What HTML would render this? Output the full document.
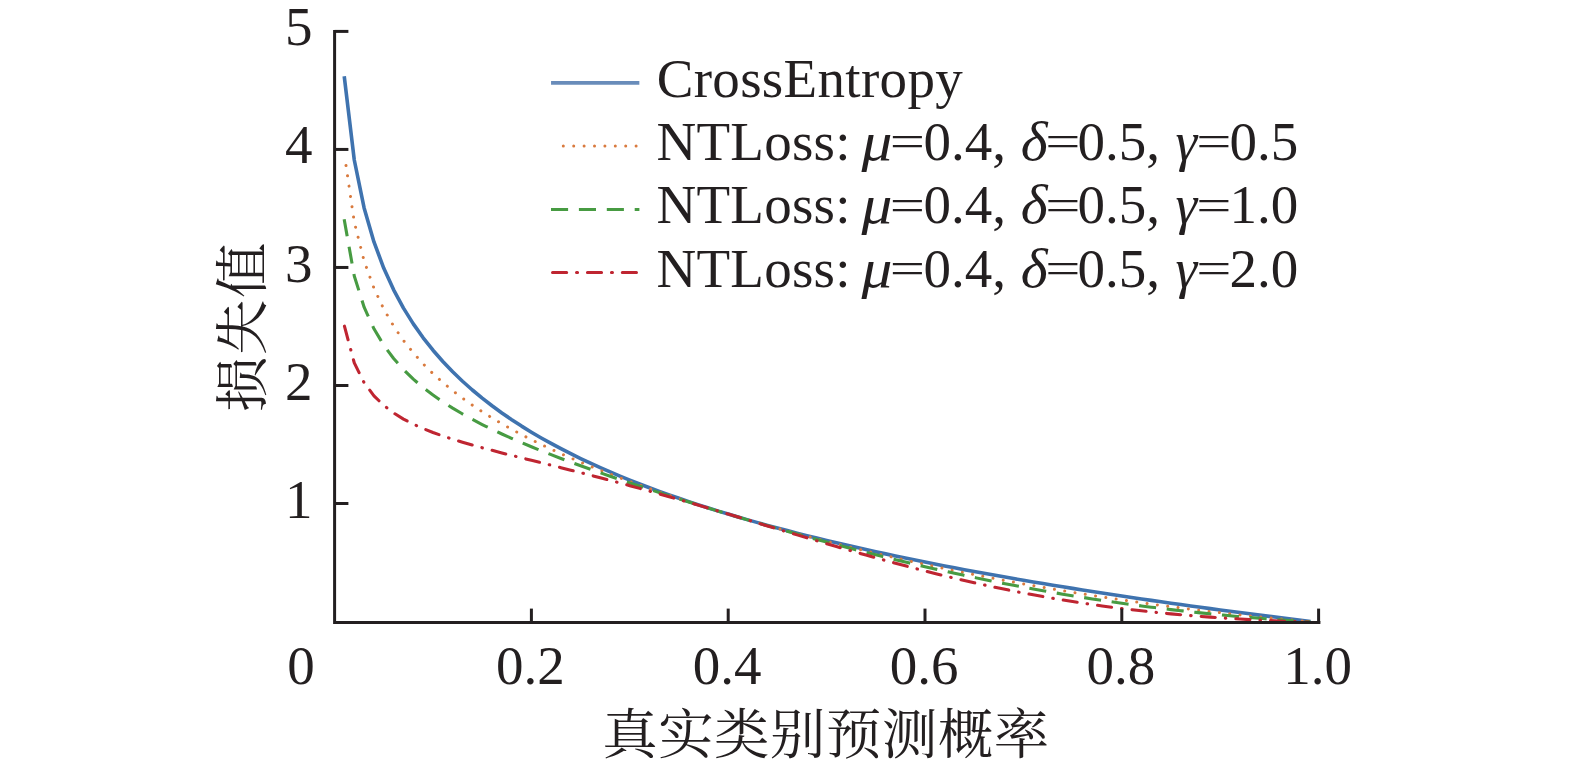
<!DOCTYPE html>
<html lang="zh"><head><meta charset="utf-8"><title>loss</title>
<style>
html,body{margin:0;padding:0;background:#fff;}
svg{display:block}
text{font-family:"Liberation Serif","Noto Serif CJK SC",serif;font-size:55px;fill:#231f20}
text.it{font-style:italic}
text.cjk{font-size:55.4px;}
</style></head><body>
<svg width="1575" height="768" viewBox="0 0 1575 768">
<rect width="1575" height="768" fill="#ffffff"/>

<path d="M344.44 78.07 L354.28 160.00 L364.12 207.92 L373.96 241.93 L383.80 268.30 L393.64 289.85 L403.48 308.08 L413.32 323.86 L423.16 337.78 L433.00 350.23 L442.84 361.50 L452.68 371.78 L462.52 381.25 L472.36 390.01 L482.20 398.16 L492.04 405.79 L501.88 412.95 L511.72 419.71 L521.56 426.10 L531.40 432.16 L541.24 437.93 L551.08 443.43 L560.92 448.68 L570.76 453.71 L580.60 458.54 L590.44 463.18 L600.28 467.64 L610.12 471.94 L619.96 476.08 L629.80 480.09 L639.64 483.97 L649.48 487.72 L659.32 491.36 L669.16 494.88 L679.00 498.31 L688.84 501.64 L698.68 504.88 L708.52 508.03 L718.36 511.10 L728.20 514.09 L738.04 517.01 L747.88 519.86 L757.72 522.64 L767.56 525.36 L777.40 528.02 L787.24 530.61 L797.08 533.16 L806.92 535.64 L816.76 538.08 L826.60 540.47 L836.44 542.81 L846.28 545.11 L856.12 547.36 L865.96 549.57 L875.80 551.74 L885.64 553.87 L895.48 555.96 L905.32 558.01 L915.16 560.03 L925.00 562.02 L934.84 563.97 L944.68 565.90 L954.52 567.79 L964.36 569.65 L974.20 571.48 L984.04 573.29 L993.88 575.06 L1003.72 576.81 L1013.56 578.54 L1023.40 580.24 L1033.24 581.92 L1043.08 583.57 L1052.92 585.20 L1062.76 586.81 L1072.60 588.40 L1082.44 589.96 L1092.28 591.51 L1102.12 593.03 L1111.96 594.54 L1121.80 596.02 L1131.64 597.49 L1141.48 598.94 L1151.32 600.38 L1161.16 601.79 L1171.00 603.19 L1180.84 604.57 L1190.68 605.94 L1200.52 607.29 L1210.36 608.63 L1220.20 609.95 L1230.04 611.25 L1239.88 612.54 L1249.72 613.82 L1259.56 615.09 L1269.40 616.34 L1279.24 617.57 L1289.08 618.80 L1298.92 620.01 L1308.76 621.21" fill="none" stroke="#3f73af" stroke-width="3.6" stroke-linejoin="round" stroke-linecap="square"/>
<path d="M346.00 165.51 L354.28 222.17 L364.12 260.95 L373.96 288.18 L383.80 309.13 L393.64 326.16 L403.48 340.51 L413.32 352.92 L423.16 363.86 L433.00 373.66 L442.84 382.54 L452.68 390.68 L462.52 398.20 L472.36 405.20 L482.20 411.75 L492.04 417.91 L501.88 423.75 L511.72 429.29 L521.56 434.57 L531.40 439.62 L541.24 444.47 L551.08 449.14 L560.92 453.63 L570.76 457.98 L580.60 462.19 L590.44 466.27 L600.28 470.23 L610.12 474.09 L619.96 477.84 L629.80 481.51 L639.64 485.08 L649.48 488.58 L659.32 492.00 L669.16 495.34 L679.00 498.62 L688.84 501.83 L698.68 504.99 L708.52 508.08 L718.36 511.11 L728.20 514.09 L738.04 517.02 L747.88 519.90 L757.72 522.73 L767.56 525.52 L777.40 528.25 L787.24 530.94 L797.08 533.59 L806.92 536.20 L816.76 538.76 L826.60 541.29 L836.44 543.77 L846.28 546.21 L856.12 548.61 L865.96 550.98 L875.80 553.31 L885.64 555.60 L895.48 557.85 L905.32 560.07 L915.16 562.25 L925.00 564.39 L934.84 566.49 L944.68 568.57 L954.52 570.60 L964.36 572.60 L974.20 574.57 L984.04 576.50 L993.88 578.39 L1003.72 580.25 L1013.56 582.08 L1023.40 583.87 L1033.24 585.63 L1043.08 587.35 L1052.92 589.04 L1062.76 590.69 L1072.60 592.32 L1082.44 593.90 L1092.28 595.46 L1102.12 596.98 L1111.96 598.47 L1121.80 599.92 L1131.64 601.35 L1141.48 602.74 L1151.32 604.09 L1161.16 605.42 L1171.00 606.71 L1180.84 607.97 L1190.68 609.20 L1200.52 610.40 L1210.36 611.57 L1220.20 612.70 L1230.04 613.81 L1239.88 614.88 L1249.72 615.92 L1259.56 616.94 L1269.40 617.92 L1279.24 618.87 L1289.08 619.80 L1298.92 620.69 L1308.76 621.56" fill="none" stroke="#d97a3e" stroke-width="3" stroke-linecap="round" stroke-linejoin="round" stroke-dasharray="0.01 10.402000000000001"/>
<path d="M344.44 220.84 L354.28 275.99 L364.12 307.20 L373.96 328.80 L383.80 345.25 L393.64 358.50 L403.48 369.59 L413.32 379.15 L423.16 387.55 L433.00 395.07 L442.84 401.89 L452.68 408.16 L462.52 413.96 L472.36 419.39 L482.20 424.51 L492.04 429.36 L501.88 433.98 L511.72 438.41 L521.56 442.67 L531.40 446.79 L541.24 450.78 L551.08 454.66 L560.92 458.44 L570.76 462.13 L580.60 465.75 L590.44 469.30 L600.28 472.78 L610.12 476.21 L619.96 479.58 L629.80 482.91 L639.64 486.19 L649.48 489.43 L659.32 492.63 L669.16 495.80 L679.00 498.93 L688.84 502.03 L698.68 505.09 L708.52 508.12 L718.36 511.12 L728.20 514.09 L738.04 517.03 L747.88 519.94 L757.72 522.82 L767.56 525.67 L777.40 528.49 L787.24 531.27 L797.08 534.03 L806.92 536.75 L816.76 539.44 L826.60 542.09 L836.44 544.71 L846.28 547.30 L856.12 549.85 L865.96 552.37 L875.80 554.85 L885.64 557.29 L895.48 559.69 L905.32 562.05 L915.16 564.38 L925.00 566.66 L934.84 568.91 L944.68 571.11 L954.52 573.27 L964.36 575.39 L974.20 577.46 L984.04 579.50 L993.88 581.49 L1003.72 583.43 L1013.56 585.33 L1023.40 587.19 L1033.24 589.00 L1043.08 590.76 L1052.92 592.48 L1062.76 594.16 L1072.60 595.78 L1082.44 597.37 L1092.28 598.91 L1102.12 600.40 L1111.96 601.85 L1121.80 603.25 L1131.64 604.60 L1141.48 605.92 L1151.32 607.18 L1161.16 608.41 L1171.00 609.59 L1180.84 610.72 L1190.68 611.82 L1200.52 612.87 L1210.36 613.88 L1220.20 614.85 L1230.04 615.77 L1239.88 616.66 L1249.72 617.51 L1259.56 618.32 L1269.40 619.09 L1279.24 619.82 L1289.08 620.52 L1298.92 621.18 L1308.76 621.81" fill="none" stroke="#479b42" stroke-width="3.1" stroke-linejoin="round" stroke-linecap="square" stroke-dasharray="14 13.78"/>
<path d="M344.44 326.16 L354.28 362.88 L364.12 382.69 L373.96 395.84 L383.80 405.47 L393.64 412.97 L403.48 419.07 L413.32 424.19 L423.16 428.61 L433.00 432.52 L442.84 436.03 L452.68 439.25 L462.52 442.24 L472.36 445.07 L482.20 447.76 L492.04 450.36 L501.88 452.90 L511.72 455.39 L521.56 457.85 L531.40 460.29 L541.24 462.73 L551.08 465.18 L560.92 467.65 L570.76 470.13 L580.60 472.64 L590.44 475.18 L600.28 477.75 L610.12 480.36 L619.96 483.00 L629.80 485.67 L639.64 488.38 L649.48 491.12 L659.32 493.90 L669.16 496.71 L679.00 499.55 L688.84 502.41 L698.68 505.30 L708.52 508.21 L718.36 511.15 L728.20 514.09 L738.04 517.06 L747.88 520.03 L757.72 523.00 L767.56 525.98 L777.40 528.96 L787.24 531.93 L797.08 534.89 L806.92 537.84 L816.76 540.77 L826.60 543.68 L836.44 546.57 L846.28 549.43 L856.12 552.26 L865.96 555.06 L875.80 557.82 L885.64 560.54 L895.48 563.21 L905.32 565.84 L915.16 568.42 L925.00 570.95 L934.84 573.42 L944.68 575.84 L954.52 578.20 L964.36 580.50 L974.20 582.74 L984.04 584.92 L993.88 587.04 L1003.72 589.09 L1013.56 591.07 L1023.40 592.99 L1033.24 594.84 L1043.08 596.62 L1052.92 598.34 L1062.76 599.99 L1072.60 601.57 L1082.44 603.08 L1092.28 604.53 L1102.12 605.92 L1111.96 607.24 L1121.80 608.49 L1131.64 609.69 L1141.48 610.82 L1151.32 611.89 L1161.16 612.90 L1171.00 613.85 L1180.84 614.75 L1190.68 615.60 L1200.52 616.39 L1210.36 617.13 L1220.20 617.82 L1230.04 618.46 L1239.88 619.06 L1249.72 619.61 L1259.56 620.12 L1269.40 620.59 L1279.24 621.02 L1289.08 621.42 L1298.92 621.78 L1308.76 622.10" fill="none" stroke="#bf2531" stroke-width="3.1" stroke-linecap="round" stroke-linejoin="round" stroke-dasharray="14.1 10.07 0.5 10.08"/>

<path d="M334.6 29.9 V622.4 H1320.3999999999999" fill="none" stroke="#231f20" stroke-width="3" stroke-linejoin="miter"/>
<line x1="334.6" x2="348.40000000000003" y1="503.52" y2="503.52" stroke="#231f20" stroke-width="3"/>
<line x1="334.6" x2="348.40000000000003" y1="385.48999999999995" y2="385.48999999999995" stroke="#231f20" stroke-width="3"/>
<line x1="334.6" x2="348.40000000000003" y1="267.46" y2="267.46" stroke="#231f20" stroke-width="3"/>
<line x1="334.6" x2="348.40000000000003" y1="149.42999999999995" y2="149.42999999999995" stroke="#231f20" stroke-width="3"/>
<line x1="334.6" x2="348.40000000000003" y1="31.399999999999977" y2="31.399999999999977" stroke="#231f20" stroke-width="3"/>
<line x1="531.4" x2="531.4" y1="622.4" y2="608.6" stroke="#231f20" stroke-width="3"/>
<line x1="728.2" x2="728.2" y1="622.4" y2="608.6" stroke="#231f20" stroke-width="3"/>
<line x1="924.9999999999999" x2="924.9999999999999" y1="622.4" y2="608.6" stroke="#231f20" stroke-width="3"/>
<line x1="1121.8" x2="1121.8" y1="622.4" y2="608.6" stroke="#231f20" stroke-width="3"/>
<line x1="1318.6" x2="1318.6" y1="622.4" y2="608.6" stroke="#231f20" stroke-width="3"/>

<text x="312.6" y="517.5" text-anchor="end">1</text>
<text x="312.6" y="399.5" text-anchor="end">2</text>
<text x="312.6" y="281.5" text-anchor="end">3</text>
<text x="312.6" y="163.4" text-anchor="end">4</text>
<text x="312.6" y="45.4" text-anchor="end">5</text>
<text x="301" y="684" text-anchor="middle">0</text>
<text x="530.4" y="684" text-anchor="middle">0.2</text>
<text x="727.2" y="684" text-anchor="middle">0.4</text>
<text x="924.0" y="684" text-anchor="middle">0.6</text>
<text x="1120.8" y="684" text-anchor="middle">0.8</text>
<text x="1317.6" y="684" text-anchor="middle">1.0</text>


<line x1="551.05" x2="639.35" y1="82.9" y2="82.9" stroke="#698cba" stroke-width="3.8"/>
<line x1="563.3" x2="637.85" y1="146.1" y2="146.1" stroke="#d97a3e" stroke-width="3" stroke-linecap="round" stroke-dasharray="0.01 10.39"/>
<line x1="552.55" x2="637.85" y1="209.5" y2="209.5" stroke="#479b42" stroke-width="3.1" stroke-linecap="square" stroke-dasharray="14 13.9"/>
<line x1="552.55" x2="637.85" y1="272.5" y2="272.5" stroke="#bf2531" stroke-width="3.1" stroke-linecap="round" stroke-dasharray="14.1 9.9 1 9.9"/>
<text x="656.7" y="96.7" letter-spacing="0.32">CrossEntropy</text>
<text x="656.5" y="160" letter-spacing="0.25">NTLoss:</text><text class="it" transform="translate(861.6 160) scale(1.12 1)">μ</text><text transform="translate(889.79 156.36) scale(1.135 0.8)">=</text><text x="923.5" y="160">0.4,</text><text class="it" transform="translate(1020.8 160) scale(1.05 1)">δ</text><text transform="translate(1045.30 156.36) scale(1.135 0.8)">=</text><text x="1077.6" y="160">0.5,</text><text class="it" x="1175.5" y="160">γ</text><text transform="translate(1196.30 156.36) scale(1.135 0.8)">=</text><text x="1229.5" y="160">0.5</text>
<text x="656.5" y="223.3" letter-spacing="0.25">NTLoss:</text><text class="it" transform="translate(861.6 223.3) scale(1.12 1)">μ</text><text transform="translate(889.79 219.66) scale(1.135 0.8)">=</text><text x="923.5" y="223.3">0.4,</text><text class="it" transform="translate(1020.8 223.3) scale(1.05 1)">δ</text><text transform="translate(1045.30 219.66) scale(1.135 0.8)">=</text><text x="1077.6" y="223.3">0.5,</text><text class="it" x="1175.5" y="223.3">γ</text><text transform="translate(1196.30 219.66) scale(1.135 0.8)">=</text><text x="1229.5" y="223.3">1.0</text>
<text x="656.5" y="286.5" letter-spacing="0.25">NTLoss:</text><text class="it" transform="translate(861.6 286.5) scale(1.12 1)">μ</text><text transform="translate(889.79 282.86) scale(1.135 0.8)">=</text><text x="923.5" y="286.5">0.4,</text><text class="it" transform="translate(1020.8 286.5) scale(1.05 1)">δ</text><text transform="translate(1045.30 282.86) scale(1.135 0.8)">=</text><text x="1077.6" y="286.5">0.5,</text><text class="it" x="1175.5" y="286.5">γ</text><text transform="translate(1196.30 282.86) scale(1.135 0.8)">=</text><text x="1229.5" y="286.5">2.0</text>

<text class="cjk" transform="translate(826.0 753.5) scale(1 0.975)" text-anchor="middle" letter-spacing="0.55">真实类别预测概率</text>
<text class="cjk" transform="translate(261.9 326.4) rotate(-90) scale(1 0.975)" text-anchor="middle" letter-spacing="1.6">损失值</text>

</svg>
</body></html>
